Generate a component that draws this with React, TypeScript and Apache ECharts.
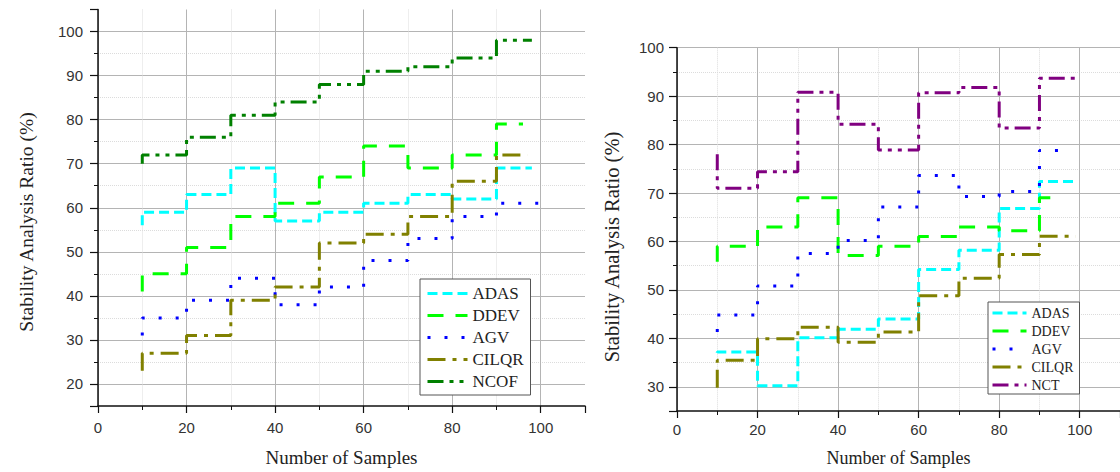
import React, { useEffect, useRef } from "react";
import * as echarts from "echarts";

// x positions where each step segment starts (last entry replaced by each series' end x)
const stepX = [10, 20, 30, 40, 50, 60, 70, 80, 90];

// Left chart: first value = start of the first vertical step at x=10, then one value per segment
const leftNames = ["ADAS", "DDEV", "AGV", "CILQR", "NCOF"];
const leftADAS = [56, 59, 63, 69, 57, 59, 61, 63, 62, 69];
const leftDDEV = [41, 45, 51, 58, 61, 67, 74, 69, 72, 79];
const leftAGV = [31, 35, 39, 44, 38, 42, 48, 53, 58, 61];
const leftCILQR = [23, 27, 31, 39, 42, 52, 54, 58, 66, 72];
const leftNCOF = [70, 72, 76, 81, 84, 88, 91, 92, 94, 98];
const leftEndX = [98, 96, 100, 97, 98];

// Right chart
const rightNames = ["ADAS", "DDEV", "AGV", "CILQR", "NCT"];
const rightADAS = [37, 37.2, 30.2, 40.1, 41.9, 44, 54.2, 58.2, 66.8, 72.4];
const rightDDEV = [55.8, 59, 63, 69, 57.1, 59, 61, 63, 62.2, 69];
const rightAGV = [41.3, 44.8, 50.8, 57.5, 60.2, 67.1, 73.6, 69.3, 70.3, 78.8];
const rightCILQR = [29.8, 35.5, 39.9, 42.3, 39.2, 41.3, 48.8, 52.4, 57.3, 61.1];
const rightNCT = [78, 71, 74.4, 90.8, 84.2, 78.9, 90.7, 91.8, 83.4, 93.7];
const rightEndX = [99, 95, 98, 99, 99];

const xTitle = "Number of Samples";
const yTitle = "Stability Analysis Ratio (%)";

const colors = ["#00ffff", "#00ff00", "#0000ff", "#808000", "#008000"];
const nctColor = "#800080";
const dashes = [
  [10, 5],
  [16, 12],
  [3, 14],
  [18, 7, 4, 7],
  [16, 6, 4, 6, 4, 6],
];

const SANS = "'Liberation Sans', Arial, sans-serif";
const SERIF = "'Liberation Serif', 'Times New Roman', serif";

function buildData(vals: number[], endX: number) {
  const xs = [...stepX, endX];
  return vals.map((v, i) => [xs[i], v]);
}

function axisX(gridIndex: number, labelMargin: number, nameGap: number, nameSize: number) {
  return {
    type: "value",
    gridIndex,
    min: 0,
    max: 110,
    interval: 20,
    name: xTitle,
    nameLocation: "middle",
    nameGap,
    nameTextStyle: { fontFamily: SERIF, fontSize: nameSize, color: "#222" },
    axisLine: { show: true, onZero: false, lineStyle: { color: "#111", width: 1.5 } },
    axisTick: { show: true, length: 7, lineStyle: { color: "#111", width: 1.2 } },
    minorTick: { show: true, splitNumber: 2, length: 4, lineStyle: { color: "#111", width: 1 } },
    axisLabel: { fontFamily: SANS, fontSize: 15, color: "#333", margin: labelMargin, showMaxLabel: false },
    splitLine: { show: true, showMaxLine: false, lineStyle: { color: "#b4b4b4", width: 1 } },
    minorSplitLine: { show: true, lineStyle: { color: "#dcdcdc", width: 1, type: "dotted" } },
  };
}

function axisY(gridIndex: number, min: number, max: number, split: number, labelMargin: number, showMax: boolean) {
  return {
    type: "value",
    gridIndex,
    min,
    max,
    splitNumber: split,
    axisLine: { show: true, onZero: false, lineStyle: { color: "#111", width: 1.5 } },
    axisTick: { show: true, length: 8, lineStyle: { color: "#111", width: 1.2 } },
    minorTick: { show: true, splitNumber: 2, length: 4, lineStyle: { color: "#111", width: 1 } },
    axisLabel: {
      fontFamily: SANS,
      fontSize: 15,
      color: "#333",
      margin: labelMargin,
      showMinLabel: false,
      showMaxLabel: showMax,
    },
    splitLine: { show: true, showMinLine: false, showMaxLine: showMax, lineStyle: { color: "#b4b4b4", width: 1 } },
    minorSplitLine: { show: true, lineStyle: { color: "#dcdcdc", width: 1, type: "dotted" } },
  };
}

export default function App() {
  const ref = useRef<HTMLDivElement>(null);
  useEffect(() => {
    if (!ref.current) return;
    const chart = echarts.init(ref.current, null, { renderer: "svg" });

    const leftVals = [leftADAS, leftDDEV, leftAGV, leftCILQR, leftNCOF];
    const rightVals = [rightADAS, rightDDEV, rightAGV, rightCILQR, rightNCT];

    const mk = (name: string, vals: number[], endX: number, i: number, g: number, color: string) => ({
      type: "line",
      name,
      xAxisIndex: g,
      yAxisIndex: g,
      step: "start",
      symbol: "none",
      showSymbol: false,
      data: buildData(vals, endX),
      itemStyle: { color },
      lineStyle: { color, width: 3, type: dashes[i] },
      z: 3,
    });

    const series: any[] = [];
    leftVals.forEach((v, i) => series.push(mk(leftNames[i], v, leftEndX[i], i, 0, colors[i])));
    rightVals.forEach((v, i) =>
      series.push(mk(rightNames[i], v, rightEndX[i], i, 1, i === 4 ? nctColor : colors[i]))
    );

    chart.setOption({
      animation: false,
      backgroundColor: "#ffffff",
      grid: [
        { left: 98, top: 9.5, width: 487, height: 400.5 },
        { left: 677, top: 47.7, width: 447, height: 365.3 },
      ],
      xAxis: [axisX(0, 14, 42, 19), axisX(1, 11, 38, 18)],
      yAxis: [axisY(0, 15, 105, 9, 15, false), axisY(1, 25, 100, 8, 13, true)],
      legend: [
        {
          data: leftNames,
          orient: "vertical",
          left: 420,
          top: 279,
          itemWidth: 40,
          itemHeight: 16,
          itemGap: 5,
          padding: [6, 7, 5, 6],
          backgroundColor: "#ffffff",
          borderColor: "#555",
          borderWidth: 1,
          borderRadius: 0,
          itemStyle: { opacity: 0 },
          lineStyle: { width: 3 },
          textStyle: { fontFamily: SERIF, fontSize: 17, color: "#222", lineHeight: 16 },
        },
        {
          data: rightNames,
          orient: "vertical",
          left: 988,
          top: 302,
          itemWidth: 34,
          itemHeight: 14,
          itemGap: 4,
          padding: [4, 6, 2, 3],
          backgroundColor: "#ffffff",
          borderColor: "#555",
          borderWidth: 1,
          borderRadius: 0,
          itemStyle: { opacity: 0 },
          lineStyle: { width: 3 },
          textStyle: { fontFamily: SERIF, fontSize: 14, color: "#222", lineHeight: 14 },
        },
      ],
      graphic: [
        {
          type: "text",
          x: 26,
          y: 222,
          rotation: Math.PI / 2,
          style: {
            text: yTitle,
            fontFamily: SERIF,
            fontSize: 19.5,
            fill: "#222",
            align: "center",
            verticalAlign: "middle",
            textAlign: "center",
            textVerticalAlign: "middle",
          },
        },
        {
          type: "text",
          x: 612,
          y: 247,
          rotation: Math.PI / 2,
          style: {
            text: yTitle,
            fontFamily: SERIF,
            fontSize: 20.5,
            fill: "#222",
            align: "center",
            verticalAlign: "middle",
            textAlign: "center",
            textVerticalAlign: "middle",
          },
        },
      ],
      series,
    });
    return () => chart.dispose();
  }, []);
  return (
    <div
      ref={ref}
      style={{ position: "absolute", left: 0, top: 0, width: 1120, height: 472, background: "#fff" }}
    />
  );
}
